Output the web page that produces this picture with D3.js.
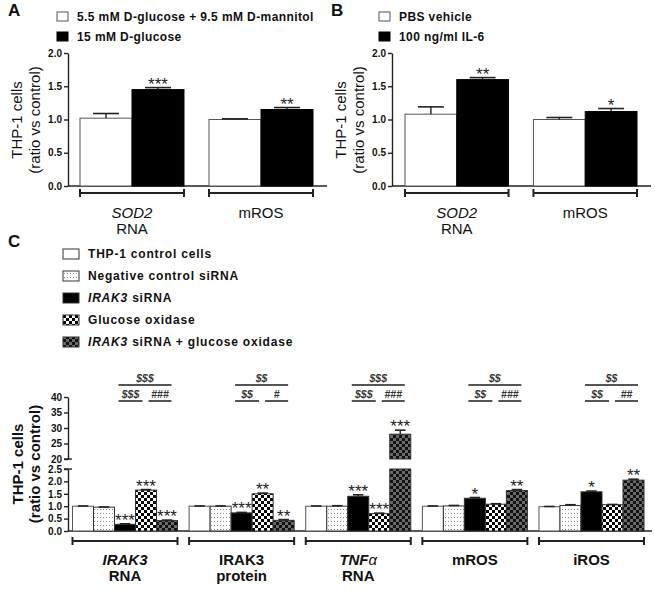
<!DOCTYPE html>
<html><head><meta charset="utf-8">
<script src="https://cdn.jsdelivr.net/npm/d3@7"></script>
<style>body{margin:0;background:#fff} svg{display:block;font-family:"Liberation Sans",Arial,sans-serif}</style>
</head><body><svg id="c" width="655" height="589"></svg>
<script>
// ---------- DATA ----------
const yTicksAB = [0, 0.5, 1.0, 1.5, 2.0];
const groupsA = ["SOD2 RNA", "mROS"];
const seriesA = ["5.5 mM D-glucose + 9.5 mM D-mannitol", "15 mM D-glucose"];
const valuesA_mannitol = [1.02, 1.00];
const errorsA_mannitol = [0.07, 0.01];
const valuesA_glucose = [1.45, 1.15];
const errorsA_glucose = [0.03, 0.03];
const starsA = ["***", "**"];

const groupsB = ["SOD2 RNA", "mROS"];
const seriesB = ["PBS vehicle", "100 ng/ml IL-6"];
const valuesB_vehicle = [1.08, 1.00];
const errorsB_vehicle = [0.11, 0.03];
const valuesB_il6 = [1.60, 1.12];
const errorsB_il6 = [0.03, 0.045];
const starsB = ["**", "*"];

const groupsC = ["IRAK3 RNA", "IRAK3 protein", "TNFα RNA", "mROS", "iROS"];
const seriesC = ["THP-1 control cells", "Negative control siRNA", "IRAK3 siRNA", "Glucose oxidase", "IRAK3 siRNA + glucose oxidase"];
const valuesC_control = [1.00, 1.00, 1.00, 1.00, 0.98];
const valuesC_negative = [0.96, 1.00, 1.00, 1.01, 1.03];
const valuesC_irak3 = [0.27, 0.73, 1.40, 1.32, 1.58];
const valuesC_gox = [1.65, 1.50, 0.70, 1.08, 1.06];
const valuesC_combo = [0.42, 0.43, 28.0, 1.63, 2.05];
const errorsC_control = [0.01, 0.01, 0.01, 0.01, 0.01];
const errorsC_negative = [0.01, 0.01, 0.02, 0.02, 0.03];
const errorsC_irak3 = [0.02, 0.02, 0.06, 0.03, 0.03];
const errorsC_gox = [0.02, 0.03, 0.02, 0.02, 0.01];
const errorsC_combo = [0.02, 0.03, 1.3, 0.04, 0.04];
const starsC_irak3 = ["***", "***", "***", "*", "*"];
const starsC_gox = ["***", "**", "***", "", ""];
const starsC_combo = ["***", "**", "***", "**", "**"];
const bracketTopC = ["$$$", "$$", "$$$", "$$", "$$"];
const bracketLeftC = ["$$$", "$$", "$$$", "$$", "$$"];
const bracketRightC = ["###", "#", "###", "###", "##"];
const yTicksCLow = [0, 0.5, 1.0, 1.5, 2.0, 2.5];
const yTicksCHigh = [20, 25, 30, 35, 40];

// category label lines: [text, italic, optional suffix]
const catLinesAB = [[["SOD2", true], ["RNA", false]], [["mROS", false]]];
const catLinesC = [[["IRAK3", true], ["RNA", false]], [["IRAK3", false], ["protein", false]], [["TNF", true, "α"], ["RNA", false]], [["mROS", false]], [["iROS", false]]];

// ---------- DRAW ----------
const svg = d3.select("#c");
const defs = svg.append("defs");
function pat(id, w, h, bg, rects) {
  const p = defs.append("pattern").attr("id", id).attr("patternUnits", "userSpaceOnUse").attr("width", w).attr("height", h);
  p.append("rect").attr("width", w).attr("height", h).attr("fill", bg);
  rects.forEach(r => p.append("rect").attr("x", r[0]).attr("y", r[1]).attr("width", r[2]).attr("height", r[3]).attr("fill", r[4]));
}
pat("dots", 3, 4, "#fff", [[1, 1, 1, 1, "#8a8a8a"]]);
pat("checker", 6, 6, "#fff", [[0, 0, 3, 3, "#000"], [3, 3, 3, 3, "#000"]]);
pat("darkchecker", 6, 6, "#6a6a6a", [[0, 0, 3, 3, "#111"], [3, 3, 3, 3, "#111"]]);

const fillsC = ["#fff", "url(#dots)", "#000", "url(#checker)", "url(#darkchecker)"];
const AX = "#222";

function styleAxis(g) {
  g.selectAll("path,line").attr("stroke", AX).attr("stroke-width", 1.4);
  g.selectAll("text").attr("font-size", 10).attr("font-weight", "bold").attr("fill", "#111")
    .attr("font-family", '"Liberation Sans",Arial,sans-serif');
}

function yTitle(x1, x2, yc, bold) {
  [["THP-1 cells", x1], ["(ratio vs control)", x2]].forEach(([t, x]) => {
    svg.append("text").attr("transform", `translate(${x},${yc}) rotate(-90)`).attr("text-anchor", "middle")
      .attr("font-size", 15).attr("font-weight", bold ? "bold" : "normal").attr("fill", "#111").text(t);
  });
}

function bracket(x0, x1, y) {
  svg.append("line").attr("x1", x0).attr("x2", x1).attr("y1", y).attr("y2", y).attr("stroke", AX).attr("stroke-width", 2);
  [x0, x1].forEach(x => svg.append("line").attr("x1", x).attr("x2", x).attr("y1", y - 4).attr("y2", y + 4).attr("stroke", AX).attr("stroke-width", 2));
}

function catLabel(lines, cx, y0, dy, bold) {
  lines.forEach((ln, i) => {
    const t = svg.append("text").attr("x", cx).attr("y", y0 + i * dy).attr("text-anchor", "middle")
      .attr("font-size", 15).attr("font-weight", bold ? "bold" : "normal").attr("fill", "#111");
    t.append("tspan").attr("font-style", ln[1] ? "italic" : "normal").text(ln[0]);
    if (ln[2]) t.append("tspan").attr("font-style", "italic").attr("font-weight", "normal").text(ln[2]);
  });
}

function errBar(cx, yTop, yVal, w) {
  svg.append("line").attr("x1", cx).attr("x2", cx).attr("y1", yVal).attr("y2", yTop).attr("stroke", AX).attr("stroke-width", 1.4);
  svg.append("line").attr("x1", cx - w / 2).attr("x2", cx + w / 2).attr("y1", yTop).attr("y2", yTop).attr("stroke", AX).attr("stroke-width", 1.6);
}

function stars(cx, yTop, s) {
  if (!s) return;
  svg.append("text").attr("x", cx).attr("y", yTop + 2).attr("text-anchor", "middle").attr("font-size", 17)
    .attr("fill", "#222").text(s);
}

// ----- Panels A and B -----
function panelAB(opt) {
  const y = d3.scaleLinear().domain([0, 2]).range([186, 53]);
  const x0 = d3.scaleBand().domain(opt.groups).range(opt.xr).paddingInner(0.194).paddingOuter(0);
  const x1 = d3.scaleBand().domain([0, 1]).range([0, x0.bandwidth()]);
  svg.append("line").attr("x1", opt.axisX).attr("x2", opt.baseEnd).attr("y1", y(0)).attr("y2", y(0)).attr("stroke", AX).attr("stroke-width", 1.4);
  const ax = svg.append("g").attr("transform", `translate(${opt.axisX},0)`)
    .call(d3.axisLeft(y).tickValues(yTicksAB).tickFormat(d3.format(".1f")).tickSize(4).tickSizeOuter(0).tickPadding(2));
  styleAxis(ax);
  const sets = [[opt.v0, opt.e0, "#fff"], [opt.v1, opt.e1, "#000"]];
  sets.forEach((s, si) => {
    opt.groups.forEach((g, gi) => {
      const bx = x0(g) + x1(si), bw = x1.bandwidth();
      svg.append("rect").attr("x", bx).attr("y", y(s[0][gi])).attr("width", bw).attr("height", y(0) - y(s[0][gi]))
        .attr("fill", s[2]).attr("stroke", si === 0 ? "#555" : "#000").attr("stroke-width", 1);
      const yt = y(s[0][gi] + s[1][gi]);
      errBar(bx + bw / 2, yt, y(s[0][gi]), bw * 0.5);
      if (si === 1) stars(bx + bw / 2, yt, opt.stars[gi]);
    });
  });
  opt.groups.forEach((g, gi) => {
    bracket(x0(g), x0(g) + x0.bandwidth(), 193);
    catLabel(catLinesAB[gi], x0(g) + x0.bandwidth() / 2, 218, 16, false);
  });
  yTitle(opt.axisX - 46, opt.axisX - 28, 120, false);
  svg.append("text").attr("x", opt.letterX).attr("y", 16).attr("font-size", 17).attr("font-weight", "bold").attr("fill", "#111").text(opt.letter);
  opt.series.forEach((s, i) => {
    const yc = 17 + i * 20;
    svg.append("rect").attr("x", opt.legX).attr("y", yc - 5).attr("width", 11).attr("height", 9)
      .attr("fill", i === 0 ? "#fff" : "#000").attr("stroke", i === 0 ? "#555" : "#000").attr("stroke-width", 1);
    svg.append("text").attr("x", opt.legX + 20).attr("y", yc + 4).attr("font-size", 12).attr("font-weight", "bold")
      .attr("letter-spacing", 0.4).attr("fill", "#111").text(s);
  });
}

panelAB({groups: groupsA, series: seriesA, xr: [80, 313], axisX: 68, baseEnd: 327, v0: valuesA_mannitol, e0: errorsA_mannitol,
  v1: valuesA_glucose, e1: errorsA_glucose, stars: starsA, letter: "A", letterX: 8, legX: 57});
panelAB({groups: groupsB, series: seriesB, xr: [405, 637], axisX: 392, baseEnd: 651, v0: valuesB_vehicle, e0: errorsB_vehicle,
  v1: valuesB_il6, e1: errorsB_il6, stars: starsB, letter: "B", letterX: 331, legX: 379});

// ----- Panel C -----
(function () {
  const yLow = d3.scaleLinear().domain([0, 2.5]).range([531, 469]);
  const yHigh = d3.scaleLinear().domain([20, 40]).range([459, 397]);
  const x0 = d3.scaleBand().domain(groupsC).range([72.5, 644]).paddingInner(0.0995).paddingOuter(0);
  const x1 = d3.scaleBand().domain(d3.range(5)).range([0, x0.bandwidth()]);
  const yv = v => v <= 2.5 ? yLow(v) : yHigh(v);
  svg.append("line").attr("x1", 68).attr("x2", 652).attr("y1", yLow(0)).attr("y2", yLow(0)).attr("stroke", AX).attr("stroke-width", 1.4);
  const axL = svg.append("g").attr("transform", "translate(68,0)")
    .call(d3.axisLeft(yLow).tickValues(yTicksCLow).tickFormat(d3.format(".1f")).tickSize(4).tickSizeOuter(0).tickPadding(2));
  styleAxis(axL);
  const axH = svg.append("g").attr("transform", "translate(68,0)")
    .call(d3.axisLeft(yHigh).tickValues(yTicksCHigh).tickFormat(d3.format("d")).tickSize(4).tickSizeOuter(0).tickPadding(2));
  styleAxis(axH);
  [yLow(2.5), yHigh(20)].forEach(yy => svg.append("line").attr("x1", 64).attr("x2", 72).attr("y1", yy).attr("y2", yy).attr("stroke", AX).attr("stroke-width", 1.4));

  const vals = [valuesC_control, valuesC_negative, valuesC_irak3, valuesC_gox, valuesC_combo];
  const errs = [errorsC_control, errorsC_negative, errorsC_irak3, errorsC_gox, errorsC_combo];
  const st = [null, null, starsC_irak3, starsC_gox, starsC_combo];
  groupsC.forEach((g, gi) => {
    vals.forEach((vArr, si) => {
      const v = vArr[gi], bx = x0(g) + x1(si), bw = x1.bandwidth();
      const stroke = si === 0 ? "#555" : "#333";
      if (v <= 2.5) {
        svg.append("rect").attr("x", bx).attr("y", yLow(v)).attr("width", bw).attr("height", yLow(0) - yLow(v))
          .attr("fill", fillsC[si]).attr("stroke", stroke).attr("stroke-width", 1);
      } else {
        svg.append("rect").attr("x", bx).attr("y", yLow(2.5)).attr("width", bw).attr("height", yLow(0) - yLow(2.5))
          .attr("fill", fillsC[si]).attr("stroke", stroke).attr("stroke-width", 1);
        svg.append("rect").attr("x", bx).attr("y", yHigh(v)).attr("width", bw).attr("height", yHigh(20) - yHigh(v))
          .attr("fill", fillsC[si]).attr("stroke", stroke).attr("stroke-width", 1);
      }
      const yt = yv(v + errs[si][gi]);
      errBar(bx + bw / 2, yt, yv(v), bw * 0.5);
      if (st[si]) stars(bx + bw / 2, yt, st[si][gi]);
    });
    const gx = x0(g);
    bracket(gx, gx + x0.bandwidth(), 541);
    catLabel(catLinesC[gi], gx + x0.bandwidth() / 2, 565, 16, true);
    const segs = [[gx + 46, gx + 99, 385, bracketTopC[gi]], [gx + 46, gx + 70, 401, bracketLeftC[gi]], [gx + 76, gx + 99, 401, bracketRightC[gi]]];
    segs.forEach(s => {
      svg.append("line").attr("x1", s[0]).attr("x2", s[1]).attr("y1", s[2]).attr("y2", s[2]).attr("stroke", "#555").attr("stroke-width", 2);
      svg.append("text").attr("x", (s[0] + s[1]) / 2).attr("y", s[2] - 3).attr("text-anchor", "middle").attr("font-size", 10.5)
        .attr("font-weight", "bold").attr("font-style", "italic").attr("fill", "#333").text(s[3]);
    });
  });
  yTitle(23, 40, 464, true);
  svg.append("text").attr("x", 8).attr("y", 247).attr("font-size", 17).attr("font-weight", "bold").attr("fill", "#111").text("C");
  seriesC.forEach((s, i) => {
    const yc = 254 + i * 22;
    svg.append("rect").attr("x", 63).attr("y", yc - 5).attr("width", 16).attr("height", 10)
      .attr("fill", fillsC[i]).attr("stroke", "#333").attr("stroke-width", 1);
    const t = svg.append("text").attr("x", 88).attr("y", yc + 4).attr("font-size", 12).attr("font-weight", "bold")
      .attr("letter-spacing", 0.8).attr("fill", "#111");
    if (s.startsWith("IRAK3")) {
      t.append("tspan").attr("font-style", "italic").text("IRAK3");
      t.append("tspan").text(s.slice(5));
    } else t.text(s);
  });
})();
</script></body></html>
